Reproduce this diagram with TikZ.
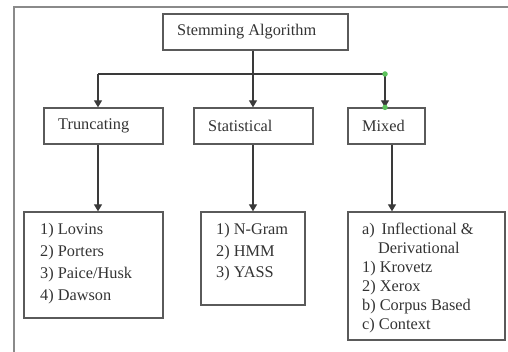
\documentclass[tikz,border=0pt]{standalone}
\usepackage{fontspec}
\setmainfont{Liberation Serif}
\usetikzlibrary{arrows.meta}
\definecolor{linec}{HTML}{3A3A3A}
\definecolor{boxc}{HTML}{5A5A5A}
\definecolor{framec}{HTML}{8A8A8A}
\definecolor{textc}{HTML}{333333}
\definecolor{dotc}{HTML}{5BC25B}
\tikzset{
  boxnode/.style={draw=boxc, line width=1.3pt, rectangle, inner sep=0pt},
  lbl/.style={anchor=west, inner sep=0pt, text=textc, font=\fontsize{16.3}{16}\selectfont, align=left},
  conn/.style={draw=linec, line width=1.3pt},
  arr/.style={conn, -{Triangle[width=8pt,length=7pt]}},
  gdot/.style={circle, fill=dotc, inner sep=0pt, minimum size=5.5pt}
}
\begin{document}
\begin{tikzpicture}[x=1pt,y=-1pt]
\useasboundingbox (0,0) rectangle (508,352);
% outer frame
\draw[framec, line width=1.8pt] (14,352) -- (14,7) -- (508,7);
% boxes
\node[boxnode, minimum width=185pt, minimum height=36pt] (stem) at (255.5,32) {};
\node[boxnode, minimum width=119pt, minimum height=36pt] (trunc) at (103.5,126) {};
\node[boxnode, minimum width=119pt, minimum height=36pt] (stat) at (253.5,126) {};
\node[boxnode, minimum width=77pt, minimum height=36pt] (mixed) at (386.5,126) {};
\node[boxnode, minimum width=139pt, minimum height=106pt] (tlist) at (93.5,265) {};
\node[boxnode, minimum width=104pt, minimum height=93pt] (slist) at (253,258.5) {};
\node[boxnode, minimum width=157pt, minimum height=128pt] (mlist) at (426.5,276) {};
% labels
\node[lbl] (tstem) at (177,32) {Stemming Algorithm};
\node[lbl] (ttrunc) at (58,126) {Truncating};
\node[lbl] (tstat) at (208,126) {Statistical};
\node[lbl] (tmixed) at (362,126) {Mixed};
\node[lbl, font=\fontsize{16.3}{22}\selectfont] (ttlist) at (40,264) {1) Lovins\\2) Porters\\3) Paice/Husk\\4) Dawson};
\node[lbl, font=\fontsize{16.3}{21.5}\selectfont] (tslist) at (216,252.5) {1) N-Gram\\2) HMM\\3) YASS};
\node[lbl, font=\fontsize{16.3}{19}\selectfont] (tmlist) at (362,278) {a)\, Inflectional \&\\\hspace*{16pt}Derivational\\1) Krovetz\\2) Xerox\\b) Corpus Based\\c) Context};
% connectors
\coordinate (jl) at (98,74);
\coordinate (jc) at (253,74);
\coordinate (jr) at (385,74);
\draw[conn] (jl) -- (jr);
\draw[arr] (stem.south -| jc) -- (stat.north -| jc);
\draw[arr] (jl) -- (trunc.north -| jl);
\draw[arr] (jr) -- (mixed.north -| jr);
\coordinate (bl) at (98,144);
\coordinate (br) at (392,144);
\draw[arr] (trunc.south -| bl) -- (tlist.north -| bl);
\draw[arr] (stat.south -| jc) -- (slist.north -| jc);
\draw[arr] (mixed.south -| br) -- (mlist.north -| br);
\node[gdot] (gd1) at (jr) {};
\node[gdot] (gd2) at (mixed.north -| jr) {};
\end{tikzpicture}
\end{document}
